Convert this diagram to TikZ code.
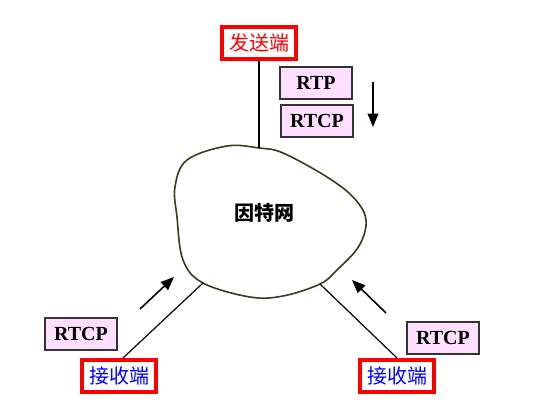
\documentclass[tikz,border=0pt]{standalone}
\usepackage{fontspec}
\usepackage{xcolor}
\usepackage{tikz}
\usetikzlibrary{positioning, arrows.meta, calc}
\setmainfont{Liberation Serif}
\newfontfamily\cjk{Noto Sans CJK SC}
\definecolor{boxpink}{HTML}{FFDFFF}
\definecolor{boxborder}{HTML}{333333}
\definecolor{endred}{HTML}{FF0000}
\definecolor{endblue}{HTML}{0000FF}
\definecolor{netline}{HTML}{3A3A20}
\tikzset{
  protobox/.style={fill=boxpink, draw=boxborder, line width=0.8pt, minimum width=54pt,
    minimum height=24pt, inner sep=0pt, font=\fontsize{15}{15}\selectfont\bfseries},
  endbox/.style={fill=white, draw=endred, line width=3pt, minimum height=24pt, inner xsep=5pt,
    inner ysep=0pt, font=\cjk\fontsize{15}{15}\selectfont},
  flow/.style={line width=1.2pt, -{Triangle[length=10pt, width=8pt]}}
}

\begin{document}
\begin{tikzpicture}[x=0.75pt, y=-0.75pt]
  \useasboundingbox (0,0) rectangle (543,417);
  % internet cloud
  \coordinate (ctop) at (259,148);
  \coordinate (cleft) at (203,283);
  \coordinate (cright) at (320,284);
  \draw[netline, line width=1.2pt] plot[smooth cycle, tension=0.6] coordinates {
    (227,146) (ctop) (283,153) (327,177) (354,198) (366,220) (359,246) (337,270) (cright)
    (283,296) (250,297) (cleft) (183,260) (177,217) (175,187) (187,160)};
  \node[font=\cjk\fontsize{15}{15}\selectfont\bfseries] (net) at (264,213) {因特网};

  % sender side
  \node[endbox, text=endred] (sender) at (259,43) {发送端};
  \node[protobox] (rtp) at (316,83) {RTP};
  \node[protobox] (rtcp) at (317,121) {RTCP};
  \coordinate (downA) at (373,82);
  \coordinate (downB) at (373,127);
  \draw[flow] (downA) -- (downB);
  \draw[line width=0.9pt] (sender.south) -- (ctop);

  % receivers
  \node[endbox, text=endblue] (recvL) at (119,376) {接收端};
  \node[endbox, text=endblue] (recvR) at (397,376) {接收端};
  \node[protobox] (rtcpL) at (81,334) {RTCP};
  \node[protobox] (rtcpR) at (443,338) {RTCP};
  \draw[line width=0.9pt] ($(recvL.north)+(4,0)$) -- (cleft);
  \draw[line width=0.9pt] (recvR.north) -- (cright);
  \coordinate (upLA) at (140,309);
  \coordinate (upLB) at (174,277);
  \coordinate (upRA) at (386,313);
  \coordinate (upRB) at (352,280);
  \draw[flow] (upLA) -- (upLB);
  \draw[flow] (upRA) -- (upRB);
\end{tikzpicture}
\end{document}
